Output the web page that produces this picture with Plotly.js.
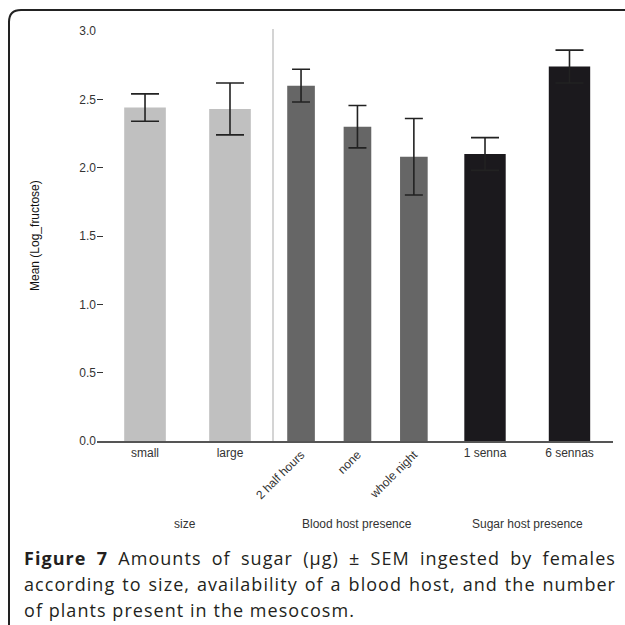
<!DOCTYPE html>
<html>
<head>
<meta charset="utf-8">
<script src="https://cdn.plot.ly/plotly-3.0.1.min.js"></script>
<style>
  html, body { margin: 0; padding: 0; background: #fff; }
  #chart { width: 625px; height: 625px; }
</style>
</head>
<body>
<div id="chart"></div>
<script>
// ---- data ----
const sizeCategories = ["small", "large"];
const sizeMeans = [2.44, 2.43];
const sizeSEM = [0.10, 0.19];

const bloodCategories = ["2 half hours", "none", "whole night"];
const bloodMeans = [2.60, 2.30, 2.08];
const bloodSEM = [0.12, 0.155, 0.28];

const sugarCategories = ["1 senna", "6 sennas"];
const sugarMeans = [2.10, 2.74];
const sugarSEM = [0.12, 0.12];

const groupTitles = ["size", "Blood host presence", "Sugar host presence"];
const yTitle = "Mean (Log_fructose)";
const captionLines = [
  "<b>Figure 7</b> Amounts of sugar (µg) ± SEM ingested by females",
  "according to size, availability of a blood host, and the number",
  "of plants present in the mesocosm."
];

// ---- layout helpers (pixel -> paper) ----
const L = 97, R = 12, T = 31, B = 184, W = 625 - L - R, H = 625 - T - B;
const px = x => (x - L) / W;
const py = y => (625 - B - y) / H;

const tickFont = { family: "Liberation Sans, Arial, sans-serif", size: 12, color: "#333" };
const errStyle = w => ({ type: "data", visible: true, thickness: 1.6, color: "#222", width: w });

const traces = [
  { type: "bar", x: sizeCategories, y: sizeMeans, xaxis: "x", yaxis: "y",
    error_y: Object.assign({ array: sizeSEM }, errStyle(14)),
    marker: { color: "#c0c0c0" }, width: 0.49, hoverinfo: "x+y" },
  { type: "bar", x: bloodCategories, y: bloodMeans, xaxis: "x2", yaxis: "y",
    error_y: Object.assign({ array: bloodSEM }, errStyle(9)),
    marker: { color: "#666666" }, width: 0.49, hoverinfo: "x+y" },
  { type: "bar", x: sugarCategories, y: sugarMeans, xaxis: "x3", yaxis: "y",
    error_y: Object.assign({ array: sugarSEM }, errStyle(14)),
    marker: { color: "#1b191d" }, width: 0.49, hoverinfo: "x+y" }
];

const xBase = {
  type: "category", showline: true, linecolor: "#555", linewidth: 2,
  showgrid: false, zeroline: false, ticks: "", tickfont: tickFont, anchor: "y", fixedrange: true
};
const d1 = px(273), d2 = px(441.5);

const layout = {
  width: 625, height: 625,
  margin: { l: L, r: R, t: T, b: B, pad: 0 },
  paper_bgcolor: "#fff", plot_bgcolor: "#fff",
  showlegend: false,
  font: tickFont,
  xaxis: Object.assign({}, xBase, { domain: [0, d1], range: [-0.565, 1.506], tickangle: 0 }),
  xaxis2: Object.assign({}, xBase, { domain: [d1, d2], range: [-0.497, 2.49], tickangle: -45 }),
  xaxis3: Object.assign({}, xBase, { domain: [d2, 1], range: [-0.515, 1.515], tickangle: 0 }),
  yaxis: {
    range: [0, 3.0], dtick: 0.5, tickformat: ".1f", ticks: "inside", ticklen: 6,
    tickcolor: "#333", tickwidth: 1, showline: false, showgrid: false, zeroline: false,
    tickfont: tickFont, anchor: "x", fixedrange: true
  },
  shapes: [
    { type: "line", xref: "paper", yref: "paper", x0: d1, x1: d1, y0: 0, y1: py(29),
      line: { color: "#d4d4d4", width: 2 }, layer: "above" },
    { type: "path", xref: "paper", yref: "paper",
      path: "M " + px(9) + "," + py(660) + " L " + px(9) + "," + py(22) +
            " Q " + px(9) + "," + py(10) + " " + px(21) + "," + py(10) +
            " L " + px(660) + "," + py(10),
      line: { color: "#222", width: 2 } }
  ],
  annotations: [
    { text: yTitle, xref: "paper", yref: "paper", x: px(35), y: 0.5, textangle: -90,
      showarrow: false, xanchor: "center", yanchor: "middle",
      font: { family: "Liberation Sans, Arial, sans-serif", size: 12, color: "#111" } },
    { text: groupTitles[0], xref: "paper", yref: "paper", x: d1 / 2, y: py(524),
      showarrow: false, xanchor: "center", yanchor: "middle", font: tickFont },
    { text: groupTitles[1], xref: "paper", yref: "paper", x: (d1 + d2) / 2, y: py(524),
      showarrow: false, xanchor: "center", yanchor: "middle", font: tickFont },
    { text: groupTitles[2], xref: "paper", yref: "paper", x: (d2 + 1) / 2, y: py(524),
      showarrow: false, xanchor: "center", yanchor: "middle", font: tickFont }
  ]
};

const capFont = { family: "Open Sans, Noto Sans, sans-serif", size: 18, color: "#231f20" };
const capY = [558, 584, 610];
captionLines.forEach((t, i) => {
  layout.annotations.push({ text: t, xref: "paper", yref: "paper", x: px(22), y: py(capY[i]),
    showarrow: false, xanchor: "left", yanchor: "middle", font: capFont });
});

Plotly.newPlot("chart", traces, layout, { staticPlot: true, displayModeBar: false }).then(gd => {
  // print-like caption: slight tracking, first two lines justified, left edge kept
  const capTexts = [];
  gd.querySelectorAll(".annotation").forEach(a => {
    const idx = +a.getAttribute("data-index");
    if (idx >= 4) capTexts[idx - 4] = a.querySelector("text.annotation-text");
  });
  if (capTexts.length !== 3 || capTexts.some(t => !t)) return;
  const lastW = 331, fullW = 592;
  const t3 = capTexts[2];
  const n3 = t3.textContent.length;
  const ls = Math.max(0, (lastW - t3.getBBox().width) / n3);
  capTexts.forEach((txt, i) => {
    const b0 = txt.getBBox();
    txt.setAttribute("letter-spacing", ls.toFixed(2));
    if (i < 2) {
      const w1 = txt.getBBox().width;
      const spaces = (txt.textContent.match(/ /g) || []).length;
      if (spaces > 0 && w1 < fullW) {
        txt.setAttribute("word-spacing", ((fullW - w1) / spaces).toFixed(2));
      }
    }
    const b1 = txt.getBBox();
    const prev = txt.getAttribute("transform") || "";
    txt.setAttribute("transform", prev + " translate(" + (b0.x - b1.x).toFixed(2) + ",0)");
  });
});
</script>
</body>
</html>
